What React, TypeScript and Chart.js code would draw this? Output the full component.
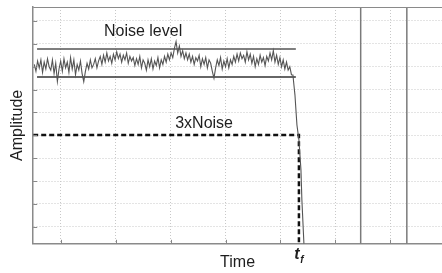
import React, { useEffect, useRef } from "react";
import { Chart, registerables } from "chart.js";

Chart.register(...registerables);

// Axis ranges (grid units)
const X_MIN = 0.5;
const X_MAX = 7.94;
const Y_MIN = 0.26;
const Y_MAX = 10.61;
const xGridTicks = [1, 2, 3, 4, 5, 6, 7];
const yGridTicks = [1, 2, 3, 4, 5, 6, 7, 8, 9, 10];

// Noise record (uniformly sampled)
const noiseStart = 0.52;
const noiseStep = 0.03;
const noiseAmp = [
  8.1, 7.8, 8.25, 7.95, 8.3, 7.75, 8.2, 7.9, 8.35, 8.0,
  7.85, 8.3, 7.7, 8.15, 7.35, 7.9, 8.25, 7.8, 8.35, 7.95,
  8.2, 7.75, 8.4, 7.9, 8.3, 7.65, 8.1, 7.85, 8.25, 7.7,
  7.35, 7.8, 8.15, 7.9, 8.3, 7.95, 8.1, 8.35, 7.95, 8.25,
  8.45, 8.1, 8.5, 8.2, 8.6, 8.25, 8.45, 8.15, 8.55, 8.3,
  8.65, 8.35, 8.55, 8.2, 8.5, 8.3, 8.6, 8.15, 8.45, 8.25,
  8.4, 8.05, 8.35, 8.1, 8.45, 7.95, 8.3, 8.15, 7.85, 8.3,
  8.0, 8.35, 7.9, 8.25, 8.05, 8.4, 7.95, 8.3, 8.1, 8.45,
  8.2, 8.55, 8.3, 8.6, 8.4, 8.8, 9.1, 8.6, 8.9, 8.45,
  8.7, 8.35, 8.6, 8.3, 8.55, 8.2, 8.45, 8.1, 8.4, 8.25,
  8.5, 8.0, 8.35, 8.1, 8.4, 7.95, 8.3, 8.15, 7.8, 7.5,
  7.95, 8.3, 8.05, 8.4, 7.9, 8.25, 8.0, 8.35, 7.95, 8.3,
  8.1, 8.45, 8.2, 8.55, 8.25, 8.6, 8.35, 8.5, 8.2, 8.65,
  8.3, 8.55, 8.15, 8.45, 8.0, 8.35, 8.1, 8.5, 8.2, 8.4,
  8.05, 8.45, 8.25, 8.6, 8.3, 8.7, 8.2, 8.5, 8.1, 8.4,
  8.0, 8.3, 7.9, 8.2, 7.85, 8.0, 7.65,
];

// Fall of the signal after the noise record
const dropTime = [5.227, 5.245, 5.264, 5.282, 5.3, 5.336, 5.373, 5.39, 5.427];
const dropAmp = [7.64, 7.2, 6.76, 6.1, 5.45, 4.8, 3.49, 2.18, 0.26];

// Noise level band
const noiseLevelUpper = 8.77;
const noiseLevelLower = 7.55;
const noiseLevelFrom = 0.57;
const noiseLevelTo = 5.28;

// 3 x noise threshold and t_f
const threshold = 5.02;
const tfTime = 5.336;

// Other traces (vertical)
const otherTimes = [6.46, 7.3];

// Label anchors (data units)
const noiseLabelPos = { x: 2.5, y: 9.52 };
const thresholdLabelPos = { x: 3.61, y: 5.5 };

const FONT = "'Liberation Sans', Arial, Helvetica, sans-serif";

export default function App() {
  const ref = useRef<HTMLCanvasElement | null>(null);

  useEffect(() => {
    const canvas = ref.current;
    if (!canvas) return;

    const noisePts = noiseAmp.map((v, i) => ({ x: noiseStart + i * noiseStep, y: v }));
    const dropPts = dropTime.map((t, i) => ({ x: t, y: dropAmp[i] }));

    const overlay = {
      id: "overlay",
      afterDraw(chart: any) {
        const { ctx, chartArea, scales } = chart;
        const xs = scales.x;
        const ys = scales.y;
        ctx.save();
        // top border
        ctx.strokeStyle = "#8a8a8a";
        ctx.lineWidth = 1.2;
        ctx.beginPath();
        ctx.moveTo(chartArea.left, chartArea.top + 0.5);
        ctx.lineTo(chartArea.right, chartArea.top + 0.5);
        ctx.stroke();
        // inner tick marks
        ctx.strokeStyle = "#888";
        ctx.lineWidth = 1;
        ctx.beginPath();
        for (const v of yGridTicks) {
          const y = Math.round(ys.getPixelForValue(v)) + 0.5;
          ctx.moveTo(chartArea.left, y);
          ctx.lineTo(chartArea.left + 4, y);
        }
        for (const v of xGridTicks) {
          const x = Math.round(xs.getPixelForValue(v)) + 0.5;
          ctx.moveTo(x, chartArea.bottom);
          ctx.lineTo(x, chartArea.bottom - 4);
        }
        ctx.stroke();
        // labels
        ctx.fillStyle = "#1e1e1e";
        ctx.textAlign = "center";
        ctx.textBaseline = "middle";
        ctx.font = `16px ${FONT}`;
        ctx.fillText("Noise level", xs.getPixelForValue(noiseLabelPos.x), ys.getPixelForValue(noiseLabelPos.y));
        ctx.fillText("3xNoise", xs.getPixelForValue(thresholdLabelPos.x), ys.getPixelForValue(thresholdLabelPos.y));
        // t_f
        const tx = xs.getPixelForValue(tfTime);
        ctx.textAlign = "center";
        ctx.font = `bold italic 16px ${FONT}`;
        ctx.fillText("t", tx - 2, chartArea.bottom + 11);
        ctx.font = `bold italic 10px ${FONT}`;
        ctx.fillText("f", tx + 3, chartArea.bottom + 16);
        ctx.restore();
      },
    };

    const chart = new Chart(canvas, {
      type: "scatter",
      data: {
        datasets: [
          {
            data: [...noisePts, ...dropPts],
            showLine: true,
            borderColor: "#555",
            borderWidth: 1.1,
            pointRadius: 0,
            tension: 0,
          },
          {
            data: [
              { x: noiseLevelFrom, y: noiseLevelUpper },
              { x: noiseLevelTo, y: noiseLevelUpper },
            ],
            showLine: true,
            borderColor: "#555",
            borderWidth: 1.5,
            pointRadius: 0,
          },
          {
            data: [
              { x: noiseLevelFrom, y: noiseLevelLower },
              { x: noiseLevelTo, y: noiseLevelLower },
            ],
            showLine: true,
            borderColor: "#333",
            borderWidth: 1.5,
            pointRadius: 0,
          },
          ...otherTimes.map((t) => ({
            data: [
              { x: t, y: Y_MAX },
              { x: t, y: Y_MIN },
            ],
            showLine: true,
            borderColor: "#7a7a7a",
            borderWidth: 1.5,
            pointRadius: 0,
          })),
          {
            data: [
              { x: X_MIN, y: threshold },
              { x: tfTime, y: threshold },
              { x: tfTime, y: Y_MIN },
            ],
            showLine: true,
            borderColor: "#111",
            borderWidth: 2.5,
            borderDash: [5, 3],
            pointRadius: 0,
          },
        ],
      },
      options: {
        animation: false,
        responsive: false,
        maintainAspectRatio: false,
        layout: { padding: { top: 7, left: 0, right: 0, bottom: 0 } },
        plugins: {
          legend: { display: false },
          tooltip: { enabled: false },
        },
        scales: {
          x: {
            type: "linear",
            min: X_MIN,
            max: X_MAX,
            afterBuildTicks: (axis: any) => {
              axis.ticks = xGridTicks.map((v) => ({ value: v }));
            },
            ticks: { display: false },
            grid: { color: "#c8c8c8", lineWidth: 1, drawTicks: false },
            border: { display: true, color: "#8a8a8a", width: 1.5, dash: [1, 2] },
            title: {
              display: true,
              text: "Time",
              color: "#1e1e1e",
              font: { family: FONT, size: 16 },
              padding: { top: 9, bottom: 1 },
            },
          },
          y: {
            type: "linear",
            min: Y_MIN,
            max: Y_MAX,
            afterBuildTicks: (axis: any) => {
              axis.ticks = yGridTicks.map((v) => ({ value: v }));
            },
            ticks: { display: false },
            grid: { color: "#c8c8c8", lineWidth: 1, drawTicks: false },
            border: { display: true, color: "#8a8a8a", width: 1.5, dash: [1, 2] },
            title: {
              display: true,
              text: "Amplitude",
              color: "#1e1e1e",
              font: { family: FONT, size: 16 },
              padding: { top: 8, bottom: 6 },
            },
          },
        },
      },
      plugins: [overlay],
    });

    return () => chart.destroy();
  }, []);

  return (
    <div style={{ position: "absolute", left: 0, top: 0, width: 442, height: 273, background: "#fff" }}>
      <canvas ref={ref} width={442} height={273} style={{ display: "block" }} />
    </div>
  );
}
